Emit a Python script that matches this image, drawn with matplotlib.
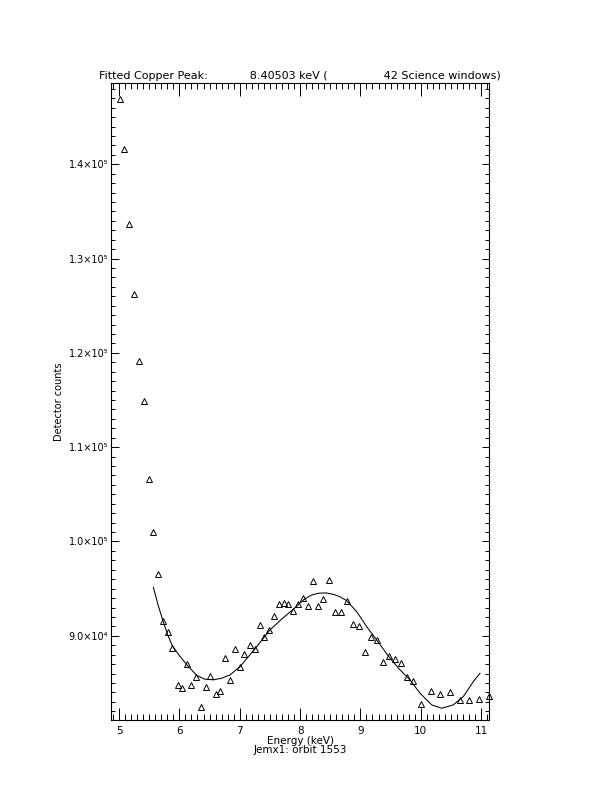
import matplotlib
matplotlib.use('Agg')
import matplotlib.pyplot as plt
from matplotlib.ticker import MultipleLocator, FixedLocator

# measured spectrum (energy keV, detector counts)
energy = [5.008, 5.088, 5.171, 5.254, 5.331, 5.409, 5.489, 5.568, 5.651, 5.725,
          5.808, 5.879, 5.969, 6.045, 6.123, 6.200, 6.283, 6.359, 6.442, 6.515,
          6.607, 6.680, 6.763, 6.840, 6.923, 7.000, 7.078, 7.165, 7.248, 7.331,
          7.407, 7.490, 7.568, 7.651, 7.729, 7.806, 7.884, 7.966, 8.049, 8.132,
          8.210, 8.289, 8.375, 8.480, 8.579, 8.674, 8.778, 8.873, 8.972, 9.077,
          9.176, 9.270, 9.375, 9.469, 9.579, 9.678, 9.777, 9.877, 10.009, 10.170,
          10.319, 10.485, 10.656, 10.805, 10.961, 11.127]
counts = [146890, 141620, 133640, 126250, 119140, 114900, 106630, 100980, 96560, 91570,
          90440, 88680, 84790, 84500, 87010, 84790, 85670, 82480, 84610, 85740,
          83830, 84180, 87680, 85350, 88570, 86730, 88100, 89030, 88630, 91180,
          89840, 90620, 92100, 93320, 93430, 93370, 92630, 93320, 94040, 93190,
          95850, 93180, 93900, 95920, 92530, 92530, 93720, 91250, 91070, 88320,
          89910, 89560, 87260, 87860, 87510, 87150, 85600, 85240, 82770, 84180,
          83830, 84010, 83200, 83200, 83300, 83650]

# fitted curve
fit_energy = [5.568, 5.650, 5.729, 5.810, 5.883, 6.000, 6.127, 6.287, 6.420, 6.563,
              6.700, 6.839, 7.005, 7.254, 7.502, 7.700, 7.888, 8.054, 8.180, 8.302,
              8.430, 8.550, 8.660, 8.773, 8.940, 9.104, 9.270, 9.462, 9.640, 9.822,
              9.988, 10.182, 10.347, 10.539, 10.705, 10.871, 10.982]
fit_counts = [95150, 93200, 91570, 90050, 88950, 87900, 86900, 85800, 85400, 85330,
              85500, 85850, 86730, 88630, 90620, 91800, 92810, 93800, 94300, 94510,
              94550, 94400, 94150, 93720, 92550, 90970, 89560, 87860, 86500, 85320,
              83910, 82670, 82320, 82670, 83550, 85140, 86030]

ytick_vals = [90000, 100000, 110000, 120000, 130000, 140000]
ytick_labels = ['9.0×10⁴', '1.0×10⁵', '1.1×10⁵', '1.2×10⁵', '1.3×10⁵', '1.4×10⁵']

fig = plt.figure(figsize=(6.12, 7.92), dpi=100)
ax = fig.add_axes([0.1814, 0.0909, 0.6176, 0.8043])

ax.plot(energy, counts, linestyle='none', marker='^', markersize=5,
        markerfacecolor='none', markeredgecolor='black', markeredgewidth=0.7, clip_on=False)
ax.plot(fit_energy, fit_counts, color='black', lw=0.75)

ax.set_xlim(4.867, 11.131)
ax.set_ylim(81070, 148620)

ax.xaxis.set_major_locator(MultipleLocator(1))
ax.xaxis.set_minor_locator(MultipleLocator(0.1))
ax.yaxis.set_major_locator(FixedLocator(ytick_vals))
ax.yaxis.set_minor_locator(MultipleLocator(1000))
ax.set_yticklabels(ytick_labels)

ax.tick_params(axis='x', which='major', direction='in', length=9, width=0.7,
               top=True, labelsize=7.5, pad=4)
ax.tick_params(axis='x', which='minor', direction='in', length=4.6, width=0.7, top=True)
ax.tick_params(axis='y', which='major', direction='in', length=5.4, width=0.7,
               right=True, labelsize=7, pad=2)
ax.tick_params(axis='y', which='minor', direction='in', length=2.7, width=0.7, right=True)
for s in ax.spines.values():
    s.set_linewidth(0.8)

ax.set_title('Fitted Copper Peak:            8.40503 keV (                42 Science windows)',
             fontsize=8, pad=3)
ax.set_xlabel('Energy (keV)\nJemx1: orbit 1553', fontsize=7.5, linespacing=0.9, labelpad=0)
ax.set_ylabel('Detector counts', fontsize=7, labelpad=3)

fig.savefig('out.png', dpi=100)
